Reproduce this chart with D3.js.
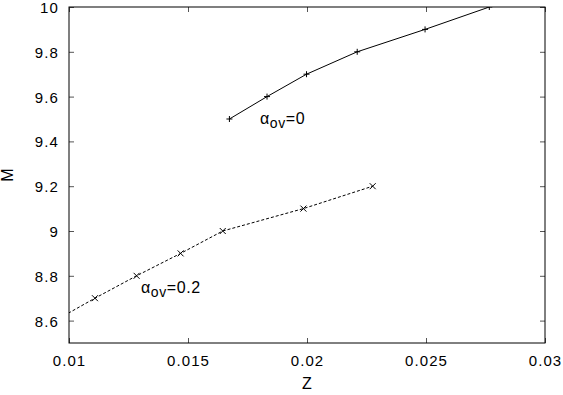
<!DOCTYPE html>
<html>
<head>
<meta charset="utf-8">
<script src="https://cdn.jsdelivr.net/npm/d3@7"></script>
<style>
  body { margin: 0; background: #fff; }
  text { font-family: "Liberation Sans", Arial, sans-serif; }
</style>
</head>
<body>
<div id="chart"></div>
<script>
// alpha_ov = 0 series (plus markers, solid line)
const zOv0 = [0.01674, 0.01832, 0.01998, 0.02211, 0.02496, 0.02766];
const mOv0 = [9.5, 9.6, 9.7, 9.8, 9.9, 10.0];
// alpha_ov = 0.2 series (cross markers, dashed line); first point lies left of the frame
const zOv2 = [0.00942, 0.01109, 0.01284, 0.01469, 0.01646, 0.01985, 0.02276];
const mOv2 = [8.6, 8.7, 8.8, 8.9, 9.0, 9.1, 9.2];
const xTicks = [0.01, 0.015, 0.02, 0.025, 0.03];
const yTicks = [8.6, 8.8, 9, 9.2, 9.4, 9.6, 9.8, 10];

const W = 563, H = 395;
const margin = {top: 7, right: 18, bottom: 52, left: 69};
const width = W - margin.left - margin.right;
const height = H - margin.top - margin.bottom;

const svg = d3.select("#chart").append("svg")
    .attr("width", W).attr("height", H);

const g = svg.append("g")
    .attr("transform", `translate(${margin.left},${margin.top})`);

const x = d3.scaleLinear().domain([0.01, 0.03]).range([0, width]);
const y = d3.scaleLinear().domain([8.5, 10]).range([height, 0]);

g.append("clipPath").attr("id", "clip")
    .append("rect").attr("width", width).attr("height", height);

// ticks inside on all four sides
const tickLen = 5;
g.append("g").attr("transform", `translate(0,${height})`)
    .call(d3.axisBottom(x).tickValues(xTicks).tickSizeInner(-tickLen).tickSizeOuter(0)
        .tickFormat(d => d3.format("")(+d.toFixed(3))))
    .call(a => a.select(".domain").remove())
    .call(a => a.selectAll("line").attr("stroke", "#555"))
    .call(a => a.selectAll("text").attr("dy", null).attr("y", 23)
        .attr("font-size", "15px").attr("letter-spacing", "1.1px").attr("fill", "#000"));

g.append("g")
    .call(d3.axisTop(x).tickValues(xTicks).tickSizeInner(-tickLen).tickSizeOuter(0).tickFormat(""))
    .call(a => a.select(".domain").remove())
    .call(a => a.selectAll("line").attr("stroke", "#555"));

g.append("g")
    .call(d3.axisLeft(y).tickValues(yTicks).tickSizeInner(-tickLen).tickSizeOuter(0)
        .tickFormat(d => d3.format("")(+d.toFixed(1))))
    .call(a => a.select(".domain").remove())
    .call(a => a.selectAll("line").attr("stroke", "#555"))
    .call(a => a.selectAll("text").attr("x", -10).attr("dy", "0.36em")
        .attr("font-size", "15px").attr("letter-spacing", "1.1px").attr("fill", "#000"));

g.append("g").attr("transform", `translate(${width},0)`)
    .call(d3.axisRight(y).tickValues(yTicks).tickSizeInner(-tickLen).tickSizeOuter(0).tickFormat(""))
    .call(a => a.select(".domain").remove())
    .call(a => a.selectAll("line").attr("stroke", "#555"));

g.append("rect")
    .attr("width", width).attr("height", height)
    .attr("fill", "none").attr("stroke", "#000").attr("stroke-width", 1);

const line = d3.line().x(d => x(d[0])).y(d => y(d[1]));
const data0 = zOv0.map((z, i) => [z, mOv0[i]]);
const data2 = zOv2.map((z, i) => [z, mOv2[i]]);

const plot = g.append("g").attr("clip-path", "url(#clip)");

plot.append("path").datum(data0)
    .attr("d", line).attr("fill", "none")
    .attr("stroke", "#000").attr("stroke-width", 1);

plot.append("path").datum(data2)
    .attr("d", line).attr("fill", "none")
    .attr("stroke", "#000").attr("stroke-width", 1)
    .attr("stroke-dasharray", "3,2");

const s = 3;
plot.selectAll(".plus").data(data0).enter().append("path")
    .attr("class", "plus")
    .attr("d", d => `M${x(d[0]) - s},${y(d[1])}h${2 * s}M${x(d[0])},${y(d[1]) - s}v${2 * s}`)
    .attr("stroke", "#000").attr("stroke-width", 1);

plot.selectAll(".cross").data(data2).enter().append("path")
    .attr("class", "cross")
    .attr("d", d => `M${x(d[0]) - s},${y(d[1]) - s}l${2 * s},${2 * s}M${x(d[0]) - s},${y(d[1]) + s}l${2 * s},${-2 * s}`)
    .attr("stroke", "#000").attr("stroke-width", 1);

// series labels
function seriesLabel(px, py, val) {
    const t = svg.append("text").attr("x", px).attr("y", py)
        .attr("font-size", "16px").attr("letter-spacing", "0.6px").attr("fill", "#000");
    t.append("tspan").text("α");
    t.append("tspan").attr("dy", 4).attr("font-size", "14px").text("ov");
    t.append("tspan").attr("dy", -4).text("=" + val);
}
seriesLabel(260, 124, "0");
seriesLabel(141, 293, "0.2");

// axis titles
svg.append("text")
    .attr("x", margin.left + width / 2).attr("y", 389)
    .attr("text-anchor", "middle").attr("font-size", "16px")
    .text("Z");

svg.append("text")
    .attr("transform", `translate(13,${margin.top + height / 2}) rotate(-90)`)
    .attr("text-anchor", "middle").attr("font-size", "16px")
    .text("M");
</script>
</body>
</html>
